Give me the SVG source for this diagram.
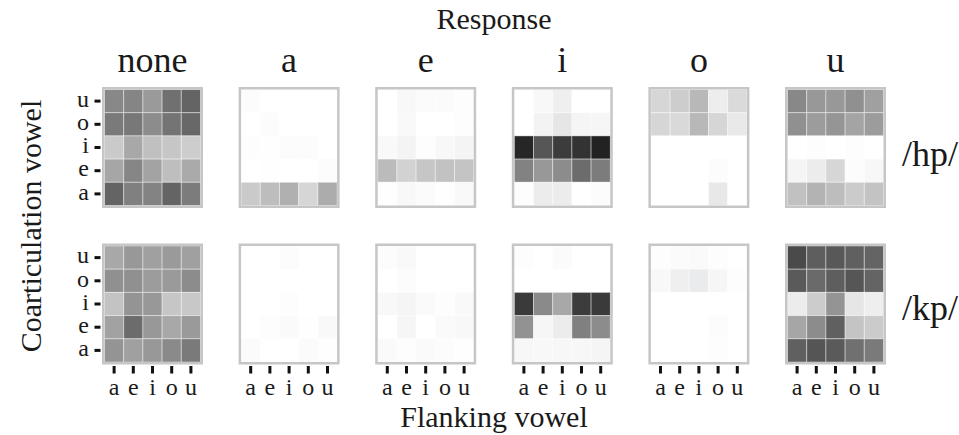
<svg xmlns="http://www.w3.org/2000/svg" width="959" height="435" viewBox="0 0 959 435">
<style>
text{font-family:"Liberation Serif","Times New Roman",serif;fill:#1a1a1a}
.ax{font-size:30px;text-anchor:middle}
.tt{font-size:36px;text-anchor:middle}
.tl{font-size:24px}
.rl{text-anchor:end}
.cl{text-anchor:middle}
.c{stroke:#ffffff;stroke-opacity:0.4;stroke-width:1}
.fr{fill:none;stroke:#c6c6c6;stroke-width:2.5}
.tk{fill:#111}
</style>
<defs>
<g id="rowticks">
<rect class="tk" x="-7.5" y="99.6" width="6" height="3"/>
<rect class="tk" x="-7.5" y="122.8" width="6" height="3"/>
<rect class="tk" x="-7.5" y="146" width="6" height="3"/>
<rect class="tk" x="-7.5" y="169.2" width="6" height="3"/>
<rect class="tk" x="-7.5" y="192.4" width="6" height="3"/>
</g>
<g id="colticks">
<rect class="tk" x="10.6" y="122.5" width="3" height="7.5"/>
<rect class="tk" x="29.8" y="122.5" width="3" height="7.5"/>
<rect class="tk" x="49" y="122.5" width="3" height="7.5"/>
<rect class="tk" x="68.2" y="122.5" width="3" height="7.5"/>
<rect class="tk" x="87.4" y="122.5" width="3" height="7.5"/>
<text class="tl cl" x="12.1" y="151">a</text>
<text class="tl cl" x="31.3" y="151">e</text>
<text class="tl cl" x="50.5" y="151">i</text>
<text class="tl cl" x="69.7" y="151">o</text>
<text class="tl cl" x="88.9" y="151">u</text>
</g>
</defs>

<text class="ax" x="494" y="29">Response</text>
<text class="ax" x="494" y="427">Flanking vowel</text>
<text class="ax" transform="translate(41,226) rotate(-90)" x="0" y="0">Coarticulation vowel</text>

<g id="titles">
<text class="tt" x="152.5" y="72">none</text>
<text class="tt" x="289.1" y="72">a</text>
<text class="tt" x="425.7" y="72">e</text>
<text class="tt" x="562.3" y="72">i</text>
<text class="tt" x="698.9" y="72">o</text>
<text class="tt" x="835.5" y="72">u</text>
</g>

<g id="row-labels">
<text class="tl rl" x="89" y="106.8">u</text>
<text class="tl rl" x="89" y="130">o</text>
<text class="tl rl" x="89" y="153.2">i</text>
<text class="tl rl" x="89" y="176.4">e</text>
<text class="tl rl" x="89" y="199.6">a</text>
<text class="tl rl" x="89" y="263.3">u</text>
<text class="tl rl" x="89" y="286.5">o</text>
<text class="tl rl" x="89" y="309.7">i</text>
<text class="tl rl" x="89" y="332.9">e</text>
<text class="tl rl" x="89" y="356.1">a</text>
</g>

<text x="902" y="166" style="font-size:36px">/hp/</text>
<text x="902" y="320" style="font-size:36px">/kp/</text>

<g id="hp-none" transform="translate(102,87)">
<rect class="c" x="2.5" y="2.5" width="19.2" height="23.2" fill="#888888"/><rect class="c" x="21.7" y="2.5" width="19.2" height="23.2" fill="#858585"/><rect class="c" x="40.9" y="2.5" width="19.2" height="23.2" fill="#9a9a9a"/><rect class="c" x="60.1" y="2.5" width="19.2" height="23.2" fill="#707070"/><rect class="c" x="79.3" y="2.5" width="19.2" height="23.2" fill="#646464"/>
<rect class="c" x="2.5" y="25.7" width="19.2" height="23.2" fill="#7a7a7a"/><rect class="c" x="21.7" y="25.7" width="19.2" height="23.2" fill="#787878"/><rect class="c" x="40.9" y="25.7" width="19.2" height="23.2" fill="#8c8c8c"/><rect class="c" x="60.1" y="25.7" width="19.2" height="23.2" fill="#747474"/><rect class="c" x="79.3" y="25.7" width="19.2" height="23.2" fill="#686868"/>
<rect class="c" x="2.5" y="48.9" width="19.2" height="23.2" fill="#cacaca"/><rect class="c" x="21.7" y="48.9" width="19.2" height="23.2" fill="#a8a8a8"/><rect class="c" x="40.9" y="48.9" width="19.2" height="23.2" fill="#c0c0c0"/><rect class="c" x="60.1" y="48.9" width="19.2" height="23.2" fill="#c6c6c6"/><rect class="c" x="79.3" y="48.9" width="19.2" height="23.2" fill="#cdcdcd"/>
<rect class="c" x="2.5" y="72.1" width="19.2" height="23.2" fill="#a6a6a6"/><rect class="c" x="21.7" y="72.1" width="19.2" height="23.2" fill="#868686"/><rect class="c" x="40.9" y="72.1" width="19.2" height="23.2" fill="#a3a3a3"/><rect class="c" x="60.1" y="72.1" width="19.2" height="23.2" fill="#bebebe"/><rect class="c" x="79.3" y="72.1" width="19.2" height="23.2" fill="#aaaaaa"/>
<rect class="c" x="2.5" y="95.3" width="19.2" height="23.2" fill="#646464"/><rect class="c" x="21.7" y="95.3" width="19.2" height="23.2" fill="#808080"/><rect class="c" x="40.9" y="95.3" width="19.2" height="23.2" fill="#838383"/><rect class="c" x="60.1" y="95.3" width="19.2" height="23.2" fill="#646464"/><rect class="c" x="79.3" y="95.3" width="19.2" height="23.2" fill="#7c7c7c"/>
<rect class="fr" x="1.25" y="1.25" width="98.5" height="118.5"/>
<use href="#rowticks" y="-87"/>
</g>

<g id="hp-a" transform="translate(238.6,87)">
<rect class="c" x="2.5" y="2.5" width="19.2" height="23.2" fill="#fcfcfc"/><rect class="c" x="21.7" y="2.5" width="19.2" height="23.2" fill="#ffffff"/><rect class="c" x="40.9" y="2.5" width="19.2" height="23.2" fill="#ffffff"/><rect class="c" x="60.1" y="2.5" width="19.2" height="23.2" fill="#ffffff"/><rect class="c" x="79.3" y="2.5" width="19.2" height="23.2" fill="#ffffff"/>
<rect class="c" x="2.5" y="25.7" width="19.2" height="23.2" fill="#ffffff"/><rect class="c" x="21.7" y="25.7" width="19.2" height="23.2" fill="#fcfcfc"/><rect class="c" x="40.9" y="25.7" width="19.2" height="23.2" fill="#ffffff"/><rect class="c" x="60.1" y="25.7" width="19.2" height="23.2" fill="#ffffff"/><rect class="c" x="79.3" y="25.7" width="19.2" height="23.2" fill="#ffffff"/>
<rect class="c" x="2.5" y="48.9" width="19.2" height="23.2" fill="#fdfdfd"/><rect class="c" x="21.7" y="48.9" width="19.2" height="23.2" fill="#fefefe"/><rect class="c" x="40.9" y="48.9" width="19.2" height="23.2" fill="#fcfcfc"/><rect class="c" x="60.1" y="48.9" width="19.2" height="23.2" fill="#fcfcfc"/><rect class="c" x="79.3" y="48.9" width="19.2" height="23.2" fill="#ffffff"/>
<rect class="c" x="2.5" y="72.1" width="19.2" height="23.2" fill="#ffffff"/><rect class="c" x="21.7" y="72.1" width="19.2" height="23.2" fill="#fefefe"/><rect class="c" x="40.9" y="72.1" width="19.2" height="23.2" fill="#ffffff"/><rect class="c" x="60.1" y="72.1" width="19.2" height="23.2" fill="#ffffff"/><rect class="c" x="79.3" y="72.1" width="19.2" height="23.2" fill="#fcfcfc"/>
<rect class="c" x="2.5" y="95.3" width="19.2" height="23.2" fill="#cacaca"/><rect class="c" x="21.7" y="95.3" width="19.2" height="23.2" fill="#bdbdbd"/><rect class="c" x="40.9" y="95.3" width="19.2" height="23.2" fill="#b0b0b0"/><rect class="c" x="60.1" y="95.3" width="19.2" height="23.2" fill="#d6d6d6"/><rect class="c" x="79.3" y="95.3" width="19.2" height="23.2" fill="#acacac"/>
<rect class="fr" x="1.25" y="1.25" width="98.5" height="118.5"/>
</g>

<g id="hp-e" transform="translate(375.2,87)">
<rect class="c" x="2.5" y="2.5" width="19.2" height="23.2" fill="#ffffff"/><rect class="c" x="21.7" y="2.5" width="19.2" height="23.2" fill="#f8f8f8"/><rect class="c" x="40.9" y="2.5" width="19.2" height="23.2" fill="#fbfbfb"/><rect class="c" x="60.1" y="2.5" width="19.2" height="23.2" fill="#fbfbfb"/><rect class="c" x="79.3" y="2.5" width="19.2" height="23.2" fill="#fdfdfd"/>
<rect class="c" x="2.5" y="25.7" width="19.2" height="23.2" fill="#ffffff"/><rect class="c" x="21.7" y="25.7" width="19.2" height="23.2" fill="#f9f9f9"/><rect class="c" x="40.9" y="25.7" width="19.2" height="23.2" fill="#ffffff"/><rect class="c" x="60.1" y="25.7" width="19.2" height="23.2" fill="#ffffff"/><rect class="c" x="79.3" y="25.7" width="19.2" height="23.2" fill="#fdfdfd"/>
<rect class="c" x="2.5" y="48.9" width="19.2" height="23.2" fill="#f9f9f9"/><rect class="c" x="21.7" y="48.9" width="19.2" height="23.2" fill="#f4f4f4"/><rect class="c" x="40.9" y="48.9" width="19.2" height="23.2" fill="#fdfdfd"/><rect class="c" x="60.1" y="48.9" width="19.2" height="23.2" fill="#f8f8f8"/><rect class="c" x="79.3" y="48.9" width="19.2" height="23.2" fill="#f4f4f4"/>
<rect class="c" x="2.5" y="72.1" width="19.2" height="23.2" fill="#bbbbbb"/><rect class="c" x="21.7" y="72.1" width="19.2" height="23.2" fill="#d2d2d2"/><rect class="c" x="40.9" y="72.1" width="19.2" height="23.2" fill="#c6c6c6"/><rect class="c" x="60.1" y="72.1" width="19.2" height="23.2" fill="#c2c2c2"/><rect class="c" x="79.3" y="72.1" width="19.2" height="23.2" fill="#c4c4c4"/>
<rect class="c" x="2.5" y="95.3" width="19.2" height="23.2" fill="#fefefe"/><rect class="c" x="21.7" y="95.3" width="19.2" height="23.2" fill="#f8f8f8"/><rect class="c" x="40.9" y="95.3" width="19.2" height="23.2" fill="#fbfbfb"/><rect class="c" x="60.1" y="95.3" width="19.2" height="23.2" fill="#fefefe"/><rect class="c" x="79.3" y="95.3" width="19.2" height="23.2" fill="#f9f9f9"/>
<rect class="fr" x="1.25" y="1.25" width="98.5" height="118.5"/>
</g>

<g id="hp-i" transform="translate(511.8,87)">
<rect class="c" x="2.5" y="2.5" width="19.2" height="23.2" fill="#ffffff"/><rect class="c" x="21.7" y="2.5" width="19.2" height="23.2" fill="#f8f8f8"/><rect class="c" x="40.9" y="2.5" width="19.2" height="23.2" fill="#efefef"/><rect class="c" x="60.1" y="2.5" width="19.2" height="23.2" fill="#ffffff"/><rect class="c" x="79.3" y="2.5" width="19.2" height="23.2" fill="#ffffff"/>
<rect class="c" x="2.5" y="25.7" width="19.2" height="23.2" fill="#ffffff"/><rect class="c" x="21.7" y="25.7" width="19.2" height="23.2" fill="#f3f3f3"/><rect class="c" x="40.9" y="25.7" width="19.2" height="23.2" fill="#e6e6e6"/><rect class="c" x="60.1" y="25.7" width="19.2" height="23.2" fill="#f5f5f5"/><rect class="c" x="79.3" y="25.7" width="19.2" height="23.2" fill="#f6f6f6"/>
<rect class="c" x="2.5" y="48.9" width="19.2" height="23.2" fill="#262626"/><rect class="c" x="21.7" y="48.9" width="19.2" height="23.2" fill="#565656"/><rect class="c" x="40.9" y="48.9" width="19.2" height="23.2" fill="#3c3c3c"/><rect class="c" x="60.1" y="48.9" width="19.2" height="23.2" fill="#333333"/><rect class="c" x="79.3" y="48.9" width="19.2" height="23.2" fill="#222222"/>
<rect class="c" x="2.5" y="72.1" width="19.2" height="23.2" fill="#828282"/><rect class="c" x="21.7" y="72.1" width="19.2" height="23.2" fill="#989898"/><rect class="c" x="40.9" y="72.1" width="19.2" height="23.2" fill="#8c8c8c"/><rect class="c" x="60.1" y="72.1" width="19.2" height="23.2" fill="#6c6c6c"/><rect class="c" x="79.3" y="72.1" width="19.2" height="23.2" fill="#7c7c7c"/>
<rect class="c" x="2.5" y="95.3" width="19.2" height="23.2" fill="#fdfdfd"/><rect class="c" x="21.7" y="95.3" width="19.2" height="23.2" fill="#ececec"/><rect class="c" x="40.9" y="95.3" width="19.2" height="23.2" fill="#ececec"/><rect class="c" x="60.1" y="95.3" width="19.2" height="23.2" fill="#ffffff"/><rect class="c" x="79.3" y="95.3" width="19.2" height="23.2" fill="#fcfcfc"/>
<rect class="fr" x="1.25" y="1.25" width="98.5" height="118.5"/>
</g>

<g id="hp-o" transform="translate(648.4,87)">
<rect class="c" x="2.5" y="2.5" width="19.2" height="23.2" fill="#d6d6d6"/><rect class="c" x="21.7" y="2.5" width="19.2" height="23.2" fill="#cdcdcd"/><rect class="c" x="40.9" y="2.5" width="19.2" height="23.2" fill="#b8b8b8"/><rect class="c" x="60.1" y="2.5" width="19.2" height="23.2" fill="#ededed"/><rect class="c" x="79.3" y="2.5" width="19.2" height="23.2" fill="#dadada"/>
<rect class="c" x="2.5" y="25.7" width="19.2" height="23.2" fill="#d6d6d6"/><rect class="c" x="21.7" y="25.7" width="19.2" height="23.2" fill="#d9d9d9"/><rect class="c" x="40.9" y="25.7" width="19.2" height="23.2" fill="#b8b8b8"/><rect class="c" x="60.1" y="25.7" width="19.2" height="23.2" fill="#d6d6d6"/><rect class="c" x="79.3" y="25.7" width="19.2" height="23.2" fill="#e9e9e9"/>
<rect class="c" x="2.5" y="48.9" width="19.2" height="23.2" fill="#ffffff"/><rect class="c" x="21.7" y="48.9" width="19.2" height="23.2" fill="#ffffff"/><rect class="c" x="40.9" y="48.9" width="19.2" height="23.2" fill="#ffffff"/><rect class="c" x="60.1" y="48.9" width="19.2" height="23.2" fill="#ffffff"/><rect class="c" x="79.3" y="48.9" width="19.2" height="23.2" fill="#ffffff"/>
<rect class="c" x="2.5" y="72.1" width="19.2" height="23.2" fill="#ffffff"/><rect class="c" x="21.7" y="72.1" width="19.2" height="23.2" fill="#ffffff"/><rect class="c" x="40.9" y="72.1" width="19.2" height="23.2" fill="#ffffff"/><rect class="c" x="60.1" y="72.1" width="19.2" height="23.2" fill="#fcfcfc"/><rect class="c" x="79.3" y="72.1" width="19.2" height="23.2" fill="#ffffff"/>
<rect class="c" x="2.5" y="95.3" width="19.2" height="23.2" fill="#ffffff"/><rect class="c" x="21.7" y="95.3" width="19.2" height="23.2" fill="#ffffff"/><rect class="c" x="40.9" y="95.3" width="19.2" height="23.2" fill="#ffffff"/><rect class="c" x="60.1" y="95.3" width="19.2" height="23.2" fill="#e8e8e8"/><rect class="c" x="79.3" y="95.3" width="19.2" height="23.2" fill="#ffffff"/>
<rect class="fr" x="1.25" y="1.25" width="98.5" height="118.5"/>
</g>

<g id="hp-u" transform="translate(785,87)">
<rect class="c" x="2.5" y="2.5" width="19.2" height="23.2" fill="#888888"/><rect class="c" x="21.7" y="2.5" width="19.2" height="23.2" fill="#989898"/><rect class="c" x="40.9" y="2.5" width="19.2" height="23.2" fill="#989898"/><rect class="c" x="60.1" y="2.5" width="19.2" height="23.2" fill="#909090"/><rect class="c" x="79.3" y="2.5" width="19.2" height="23.2" fill="#a0a0a0"/>
<rect class="c" x="2.5" y="25.7" width="19.2" height="23.2" fill="#909090"/><rect class="c" x="21.7" y="25.7" width="19.2" height="23.2" fill="#9c9c9c"/><rect class="c" x="40.9" y="25.7" width="19.2" height="23.2" fill="#959595"/><rect class="c" x="60.1" y="25.7" width="19.2" height="23.2" fill="#a4a4a4"/><rect class="c" x="79.3" y="25.7" width="19.2" height="23.2" fill="#9c9c9c"/>
<rect class="c" x="2.5" y="48.9" width="19.2" height="23.2" fill="#ffffff"/><rect class="c" x="21.7" y="48.9" width="19.2" height="23.2" fill="#fdfdfd"/><rect class="c" x="40.9" y="48.9" width="19.2" height="23.2" fill="#ffffff"/><rect class="c" x="60.1" y="48.9" width="19.2" height="23.2" fill="#fdfdfd"/><rect class="c" x="79.3" y="48.9" width="19.2" height="23.2" fill="#ffffff"/>
<rect class="c" x="2.5" y="72.1" width="19.2" height="23.2" fill="#f5f5f5"/><rect class="c" x="21.7" y="72.1" width="19.2" height="23.2" fill="#ececec"/><rect class="c" x="40.9" y="72.1" width="19.2" height="23.2" fill="#d6d6d6"/><rect class="c" x="60.1" y="72.1" width="19.2" height="23.2" fill="#fcfcfc"/><rect class="c" x="79.3" y="72.1" width="19.2" height="23.2" fill="#f7f7f7"/>
<rect class="c" x="2.5" y="95.3" width="19.2" height="23.2" fill="#c1c1c1"/><rect class="c" x="21.7" y="95.3" width="19.2" height="23.2" fill="#b3b3b3"/><rect class="c" x="40.9" y="95.3" width="19.2" height="23.2" fill="#bdbdbd"/><rect class="c" x="60.1" y="95.3" width="19.2" height="23.2" fill="#cbcbcb"/><rect class="c" x="79.3" y="95.3" width="19.2" height="23.2" fill="#c3c3c3"/>
<rect class="fr" x="1.25" y="1.25" width="98.5" height="118.5"/>
</g>

<g id="kp-none" transform="translate(102,243.5)">
<rect class="c" x="2.5" y="2.5" width="19.2" height="23.2" fill="#a8a8a8"/><rect class="c" x="21.7" y="2.5" width="19.2" height="23.2" fill="#989898"/><rect class="c" x="40.9" y="2.5" width="19.2" height="23.2" fill="#a0a0a0"/><rect class="c" x="60.1" y="2.5" width="19.2" height="23.2" fill="#9a9a9a"/><rect class="c" x="79.3" y="2.5" width="19.2" height="23.2" fill="#a0a0a0"/>
<rect class="c" x="2.5" y="25.7" width="19.2" height="23.2" fill="#909090"/><rect class="c" x="21.7" y="25.7" width="19.2" height="23.2" fill="#909090"/><rect class="c" x="40.9" y="25.7" width="19.2" height="23.2" fill="#9c9c9c"/><rect class="c" x="60.1" y="25.7" width="19.2" height="23.2" fill="#9a9a9a"/><rect class="c" x="79.3" y="25.7" width="19.2" height="23.2" fill="#8c8c8c"/>
<rect class="c" x="2.5" y="48.9" width="19.2" height="23.2" fill="#c3c3c3"/><rect class="c" x="21.7" y="48.9" width="19.2" height="23.2" fill="#949494"/><rect class="c" x="40.9" y="48.9" width="19.2" height="23.2" fill="#989898"/><rect class="c" x="60.1" y="48.9" width="19.2" height="23.2" fill="#c6c6c6"/><rect class="c" x="79.3" y="48.9" width="19.2" height="23.2" fill="#c8c8c8"/>
<rect class="c" x="2.5" y="72.1" width="19.2" height="23.2" fill="#a2a2a2"/><rect class="c" x="21.7" y="72.1" width="19.2" height="23.2" fill="#6c6c6c"/><rect class="c" x="40.9" y="72.1" width="19.2" height="23.2" fill="#989898"/><rect class="c" x="60.1" y="72.1" width="19.2" height="23.2" fill="#a8a8a8"/><rect class="c" x="79.3" y="72.1" width="19.2" height="23.2" fill="#9a9a9a"/>
<rect class="c" x="2.5" y="95.3" width="19.2" height="23.2" fill="#949494"/><rect class="c" x="21.7" y="95.3" width="19.2" height="23.2" fill="#a0a0a0"/><rect class="c" x="40.9" y="95.3" width="19.2" height="23.2" fill="#989898"/><rect class="c" x="60.1" y="95.3" width="19.2" height="23.2" fill="#8a8a8a"/><rect class="c" x="79.3" y="95.3" width="19.2" height="23.2" fill="#7a7a7a"/>
<rect class="fr" x="1.25" y="1.25" width="98.5" height="118.5"/>
<use href="#rowticks" y="-87"/>
<use href="#colticks"/>
</g>

<g id="kp-a" transform="translate(238.6,243.5)">
<rect class="c" x="2.5" y="2.5" width="19.2" height="23.2" fill="#ffffff"/><rect class="c" x="21.7" y="2.5" width="19.2" height="23.2" fill="#ffffff"/><rect class="c" x="40.9" y="2.5" width="19.2" height="23.2" fill="#fcfcfc"/><rect class="c" x="60.1" y="2.5" width="19.2" height="23.2" fill="#ffffff"/><rect class="c" x="79.3" y="2.5" width="19.2" height="23.2" fill="#ffffff"/>
<rect class="c" x="2.5" y="25.7" width="19.2" height="23.2" fill="#ffffff"/><rect class="c" x="21.7" y="25.7" width="19.2" height="23.2" fill="#ffffff"/><rect class="c" x="40.9" y="25.7" width="19.2" height="23.2" fill="#ffffff"/><rect class="c" x="60.1" y="25.7" width="19.2" height="23.2" fill="#ffffff"/><rect class="c" x="79.3" y="25.7" width="19.2" height="23.2" fill="#ffffff"/>
<rect class="c" x="2.5" y="48.9" width="19.2" height="23.2" fill="#ffffff"/><rect class="c" x="21.7" y="48.9" width="19.2" height="23.2" fill="#ffffff"/><rect class="c" x="40.9" y="48.9" width="19.2" height="23.2" fill="#fdfdfd"/><rect class="c" x="60.1" y="48.9" width="19.2" height="23.2" fill="#ffffff"/><rect class="c" x="79.3" y="48.9" width="19.2" height="23.2" fill="#ffffff"/>
<rect class="c" x="2.5" y="72.1" width="19.2" height="23.2" fill="#ffffff"/><rect class="c" x="21.7" y="72.1" width="19.2" height="23.2" fill="#fdfdfd"/><rect class="c" x="40.9" y="72.1" width="19.2" height="23.2" fill="#fafafa"/><rect class="c" x="60.1" y="72.1" width="19.2" height="23.2" fill="#fefefe"/><rect class="c" x="79.3" y="72.1" width="19.2" height="23.2" fill="#f9f9f9"/>
<rect class="c" x="2.5" y="95.3" width="19.2" height="23.2" fill="#fbfbfb"/><rect class="c" x="21.7" y="95.3" width="19.2" height="23.2" fill="#ffffff"/><rect class="c" x="40.9" y="95.3" width="19.2" height="23.2" fill="#ffffff"/><rect class="c" x="60.1" y="95.3" width="19.2" height="23.2" fill="#fbfbfb"/><rect class="c" x="79.3" y="95.3" width="19.2" height="23.2" fill="#fefefe"/>
<rect class="fr" x="1.25" y="1.25" width="98.5" height="118.5"/>
<use href="#colticks"/>
</g>

<g id="kp-e" transform="translate(375.2,243.5)">
<rect class="c" x="2.5" y="2.5" width="19.2" height="23.2" fill="#fcfcfc"/><rect class="c" x="21.7" y="2.5" width="19.2" height="23.2" fill="#f9f9f9"/><rect class="c" x="40.9" y="2.5" width="19.2" height="23.2" fill="#ffffff"/><rect class="c" x="60.1" y="2.5" width="19.2" height="23.2" fill="#ffffff"/><rect class="c" x="79.3" y="2.5" width="19.2" height="23.2" fill="#ffffff"/>
<rect class="c" x="2.5" y="25.7" width="19.2" height="23.2" fill="#ffffff"/><rect class="c" x="21.7" y="25.7" width="19.2" height="23.2" fill="#fcfcfc"/><rect class="c" x="40.9" y="25.7" width="19.2" height="23.2" fill="#ffffff"/><rect class="c" x="60.1" y="25.7" width="19.2" height="23.2" fill="#ffffff"/><rect class="c" x="79.3" y="25.7" width="19.2" height="23.2" fill="#ffffff"/>
<rect class="c" x="2.5" y="48.9" width="19.2" height="23.2" fill="#f8f8f8"/><rect class="c" x="21.7" y="48.9" width="19.2" height="23.2" fill="#f5f5f5"/><rect class="c" x="40.9" y="48.9" width="19.2" height="23.2" fill="#fafafa"/><rect class="c" x="60.1" y="48.9" width="19.2" height="23.2" fill="#fdfdfd"/><rect class="c" x="79.3" y="48.9" width="19.2" height="23.2" fill="#f9f9f9"/>
<rect class="c" x="2.5" y="72.1" width="19.2" height="23.2" fill="#ffffff"/><rect class="c" x="21.7" y="72.1" width="19.2" height="23.2" fill="#f6f6f6"/><rect class="c" x="40.9" y="72.1" width="19.2" height="23.2" fill="#ffffff"/><rect class="c" x="60.1" y="72.1" width="19.2" height="23.2" fill="#fafafa"/><rect class="c" x="79.3" y="72.1" width="19.2" height="23.2" fill="#f8f8f8"/>
<rect class="c" x="2.5" y="95.3" width="19.2" height="23.2" fill="#fafafa"/><rect class="c" x="21.7" y="95.3" width="19.2" height="23.2" fill="#fdfdfd"/><rect class="c" x="40.9" y="95.3" width="19.2" height="23.2" fill="#fafafa"/><rect class="c" x="60.1" y="95.3" width="19.2" height="23.2" fill="#fcfcfc"/><rect class="c" x="79.3" y="95.3" width="19.2" height="23.2" fill="#fefefe"/>
<rect class="fr" x="1.25" y="1.25" width="98.5" height="118.5"/>
<use href="#colticks"/>
</g>

<g id="kp-i" transform="translate(511.8,243.5)">
<rect class="c" x="2.5" y="2.5" width="19.2" height="23.2" fill="#fdfdfd"/><rect class="c" x="21.7" y="2.5" width="19.2" height="23.2" fill="#ffffff"/><rect class="c" x="40.9" y="2.5" width="19.2" height="23.2" fill="#fbfbfb"/><rect class="c" x="60.1" y="2.5" width="19.2" height="23.2" fill="#ffffff"/><rect class="c" x="79.3" y="2.5" width="19.2" height="23.2" fill="#ffffff"/>
<rect class="c" x="2.5" y="25.7" width="19.2" height="23.2" fill="#ffffff"/><rect class="c" x="21.7" y="25.7" width="19.2" height="23.2" fill="#ffffff"/><rect class="c" x="40.9" y="25.7" width="19.2" height="23.2" fill="#ffffff"/><rect class="c" x="60.1" y="25.7" width="19.2" height="23.2" fill="#ffffff"/><rect class="c" x="79.3" y="25.7" width="19.2" height="23.2" fill="#ffffff"/>
<rect class="c" x="2.5" y="48.9" width="19.2" height="23.2" fill="#3a3a3a"/><rect class="c" x="21.7" y="48.9" width="19.2" height="23.2" fill="#8a8a8a"/><rect class="c" x="40.9" y="48.9" width="19.2" height="23.2" fill="#a8a8a8"/><rect class="c" x="60.1" y="48.9" width="19.2" height="23.2" fill="#3c3c3c"/><rect class="c" x="79.3" y="48.9" width="19.2" height="23.2" fill="#3a3a3a"/>
<rect class="c" x="2.5" y="72.1" width="19.2" height="23.2" fill="#929292"/><rect class="c" x="21.7" y="72.1" width="19.2" height="23.2" fill="#f6f6f6"/><rect class="c" x="40.9" y="72.1" width="19.2" height="23.2" fill="#ececec"/><rect class="c" x="60.1" y="72.1" width="19.2" height="23.2" fill="#808080"/><rect class="c" x="79.3" y="72.1" width="19.2" height="23.2" fill="#8c8c8c"/>
<rect class="c" x="2.5" y="95.3" width="19.2" height="23.2" fill="#f7f7f7"/><rect class="c" x="21.7" y="95.3" width="19.2" height="23.2" fill="#f8f8f8"/><rect class="c" x="40.9" y="95.3" width="19.2" height="23.2" fill="#f7f7f7"/><rect class="c" x="60.1" y="95.3" width="19.2" height="23.2" fill="#f7f7f7"/><rect class="c" x="79.3" y="95.3" width="19.2" height="23.2" fill="#f5f5f5"/>
<rect class="fr" x="1.25" y="1.25" width="98.5" height="118.5"/>
<use href="#colticks"/>
</g>

<g id="kp-o" transform="translate(648.4,243.5)">
<rect class="c" x="2.5" y="2.5" width="19.2" height="23.2" fill="#fdfdfd"/><rect class="c" x="21.7" y="2.5" width="19.2" height="23.2" fill="#fbfbfb"/><rect class="c" x="40.9" y="2.5" width="19.2" height="23.2" fill="#fafafa"/><rect class="c" x="60.1" y="2.5" width="19.2" height="23.2" fill="#fdfdfd"/><rect class="c" x="79.3" y="2.5" width="19.2" height="23.2" fill="#ffffff"/>
<rect class="c" x="2.5" y="25.7" width="19.2" height="23.2" fill="#f8f8f8"/><rect class="c" x="21.7" y="25.7" width="19.2" height="23.2" fill="#efeff0"/><rect class="c" x="40.9" y="25.7" width="19.2" height="23.2" fill="#eaebec"/><rect class="c" x="60.1" y="25.7" width="19.2" height="23.2" fill="#f6f6f6"/><rect class="c" x="79.3" y="25.7" width="19.2" height="23.2" fill="#fdfdfd"/>
<rect class="c" x="2.5" y="48.9" width="19.2" height="23.2" fill="#ffffff"/><rect class="c" x="21.7" y="48.9" width="19.2" height="23.2" fill="#ffffff"/><rect class="c" x="40.9" y="48.9" width="19.2" height="23.2" fill="#ffffff"/><rect class="c" x="60.1" y="48.9" width="19.2" height="23.2" fill="#ffffff"/><rect class="c" x="79.3" y="48.9" width="19.2" height="23.2" fill="#ffffff"/>
<rect class="c" x="2.5" y="72.1" width="19.2" height="23.2" fill="#ffffff"/><rect class="c" x="21.7" y="72.1" width="19.2" height="23.2" fill="#ffffff"/><rect class="c" x="40.9" y="72.1" width="19.2" height="23.2" fill="#ffffff"/><rect class="c" x="60.1" y="72.1" width="19.2" height="23.2" fill="#fcfcfc"/><rect class="c" x="79.3" y="72.1" width="19.2" height="23.2" fill="#ffffff"/>
<rect class="c" x="2.5" y="95.3" width="19.2" height="23.2" fill="#ffffff"/><rect class="c" x="21.7" y="95.3" width="19.2" height="23.2" fill="#ffffff"/><rect class="c" x="40.9" y="95.3" width="19.2" height="23.2" fill="#ffffff"/><rect class="c" x="60.1" y="95.3" width="19.2" height="23.2" fill="#fdfdfd"/><rect class="c" x="79.3" y="95.3" width="19.2" height="23.2" fill="#ffffff"/>
<rect class="fr" x="1.25" y="1.25" width="98.5" height="118.5"/>
<use href="#colticks"/>
</g>

<g id="kp-u" transform="translate(785,243.5)">
<rect class="c" x="2.5" y="2.5" width="19.2" height="23.2" fill="#4a4a4a"/><rect class="c" x="21.7" y="2.5" width="19.2" height="23.2" fill="#5e5e5e"/><rect class="c" x="40.9" y="2.5" width="19.2" height="23.2" fill="#585858"/><rect class="c" x="60.1" y="2.5" width="19.2" height="23.2" fill="#606060"/><rect class="c" x="79.3" y="2.5" width="19.2" height="23.2" fill="#646464"/>
<rect class="c" x="2.5" y="25.7" width="19.2" height="23.2" fill="#5a5a5a"/><rect class="c" x="21.7" y="25.7" width="19.2" height="23.2" fill="#6a6a6a"/><rect class="c" x="40.9" y="25.7" width="19.2" height="23.2" fill="#5e5e5e"/><rect class="c" x="60.1" y="25.7" width="19.2" height="23.2" fill="#565656"/><rect class="c" x="79.3" y="25.7" width="19.2" height="23.2" fill="#646464"/>
<rect class="c" x="2.5" y="48.9" width="19.2" height="23.2" fill="#ececec"/><rect class="c" x="21.7" y="48.9" width="19.2" height="23.2" fill="#cccccc"/><rect class="c" x="40.9" y="48.9" width="19.2" height="23.2" fill="#949494"/><rect class="c" x="60.1" y="48.9" width="19.2" height="23.2" fill="#e6e6e6"/><rect class="c" x="79.3" y="48.9" width="19.2" height="23.2" fill="#eeeeee"/>
<rect class="c" x="2.5" y="72.1" width="19.2" height="23.2" fill="#a6a6a6"/><rect class="c" x="21.7" y="72.1" width="19.2" height="23.2" fill="#8c8c8c"/><rect class="c" x="40.9" y="72.1" width="19.2" height="23.2" fill="#606060"/><rect class="c" x="60.1" y="72.1" width="19.2" height="23.2" fill="#c4c4c4"/><rect class="c" x="79.3" y="72.1" width="19.2" height="23.2" fill="#cbcbcb"/>
<rect class="c" x="2.5" y="95.3" width="19.2" height="23.2" fill="#606060"/><rect class="c" x="21.7" y="95.3" width="19.2" height="23.2" fill="#555555"/><rect class="c" x="40.9" y="95.3" width="19.2" height="23.2" fill="#5a5a5a"/><rect class="c" x="60.1" y="95.3" width="19.2" height="23.2" fill="#707070"/><rect class="c" x="79.3" y="95.3" width="19.2" height="23.2" fill="#7a7a7a"/>
<rect class="fr" x="1.25" y="1.25" width="98.5" height="118.5"/>
<use href="#colticks"/>
</g>
</svg>
